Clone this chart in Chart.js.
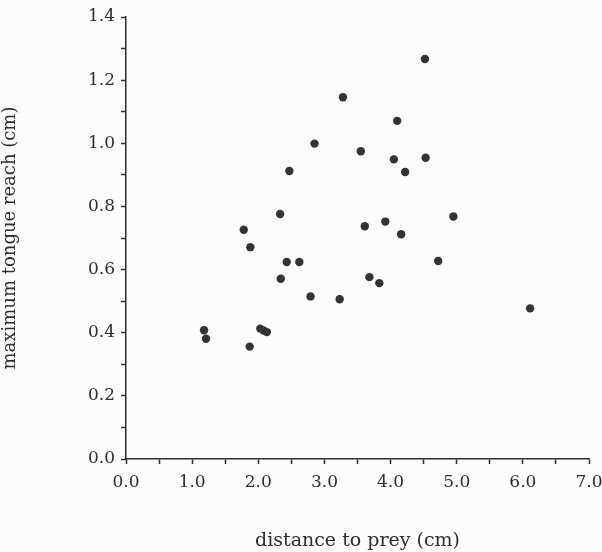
<!DOCTYPE html>
<html lang="en">
<head>
    <meta charset="UTF-8">
    <title>Tongue reach vs distance to prey</title>
    <script src="https://cdn.jsdelivr.net/npm/chart.js"></script>
    <style>
        body { margin: 0; background: #fcfcfc; }
        #wrap { width: 602px; height: 552px; }
    </style>
</head>
<body>
    <div id="wrap">
        <canvas id="reachChart" width="602" height="552"></canvas>
    </div>

    <script>
        // distance to prey (cm) for each strike
        var distance = [3.28, 2.85, 2.47, 2.33, 1.78, 1.88, 4.52, 4.10, 3.55, 4.05, 4.53,
                        4.22, 4.95, 3.61, 3.92, 4.16, 2.43, 2.62, 2.34, 2.79, 3.23, 1.18,
                        1.21, 1.87, 2.03, 2.08, 2.13, 4.72, 3.68, 3.83, 6.11];
        // maximum tongue reach (cm)
        var reach = [1.146, 0.999, 0.912, 0.776, 0.726, 0.671, 1.267, 1.071, 0.975, 0.949, 0.954,
                     0.909, 0.768, 0.737, 0.752, 0.712, 0.624, 0.624, 0.571, 0.515, 0.506, 0.408,
                     0.381, 0.356, 0.413, 0.407, 0.402, 0.627, 0.576, 0.557, 0.477];

        var xTitle = 'distance to prey (cm)';
        var yTitle = 'maximum tongue reach (cm)';

        var points = distance.map(function(d, i) {
            return { x: d, y: reach[i] };
        });

        var ink = '#2e2e2e';
        var labelFont = { family: 'DejaVu Serif', size: 17 };

        var ctx = document.getElementById('reachChart').getContext('2d');
        var chart = new Chart(ctx, {
            type: 'scatter',
            data: {
                datasets: [{
                    data: points,
                    pointRadius: 4.2,
                    pointHoverRadius: 4.2,
                    pointBackgroundColor: '#333333',
                    pointBorderColor: '#333333',
                    pointBorderWidth: 0
                }]
            },
            options: {
                responsive: false,
                animation: false,
                layout: {
                    padding: { top: 17, right: 13, left: 0, bottom: 0 }
                },
                plugins: {
                    legend: { display: false },
                    tooltip: { enabled: false }
                },
                scales: {
                    x: {
                        type: 'linear',
                        min: 0,
                        max: 7,
                        afterFit: function(scale) {
                            scale.height = 93;
                            scale.paddingLeft = 0;
                            scale.paddingRight = 0;
                        },
                        border: { color: ink, width: 1.5 },
                        grid: {
                            drawOnChartArea: false,
                            tickLength: 5,
                            tickColor: ink,
                            tickWidth: 1.5
                        },
                        ticks: {
                            stepSize: 0.5,
                            maxRotation: 0,
                            autoSkip: false,
                            padding: 8,
                            color: ink,
                            font: labelFont,
                            callback: function(value) {
                                return Number.isInteger(value) ? value.toFixed(1) : '';
                            }
                        },
                        title: {
                            display: true,
                            text: xTitle,
                            color: ink,
                            font: { family: 'DejaVu Serif', size: 19 },
                            padding: { top: 0, bottom: 0 }
                        }
                    },
                    y: {
                        min: 0,
                        max: 1.4,
                        afterFit: function(scale) { scale.width = 126; },
                        border: { color: ink, width: 1.5 },
                        grid: {
                            drawOnChartArea: false,
                            tickLength: 5,
                            tickColor: ink,
                            tickWidth: 1.5
                        },
                        ticks: {
                            stepSize: 0.1,
                            autoSkip: false,
                            padding: 6,
                            color: ink,
                            font: labelFont,
                            callback: function(value) {
                                return Math.round(value * 10) % 2 === 0 ? value.toFixed(1) : '';
                            }
                        },
                        title: {
                            display: true,
                            text: yTitle,
                            color: ink,
                            font: { family: 'DejaVu Serif', size: 18 },
                            padding: { top: 0, bottom: 7 }
                        }
                    }
                }
            }
        });
    </script>
</body>
</html>
